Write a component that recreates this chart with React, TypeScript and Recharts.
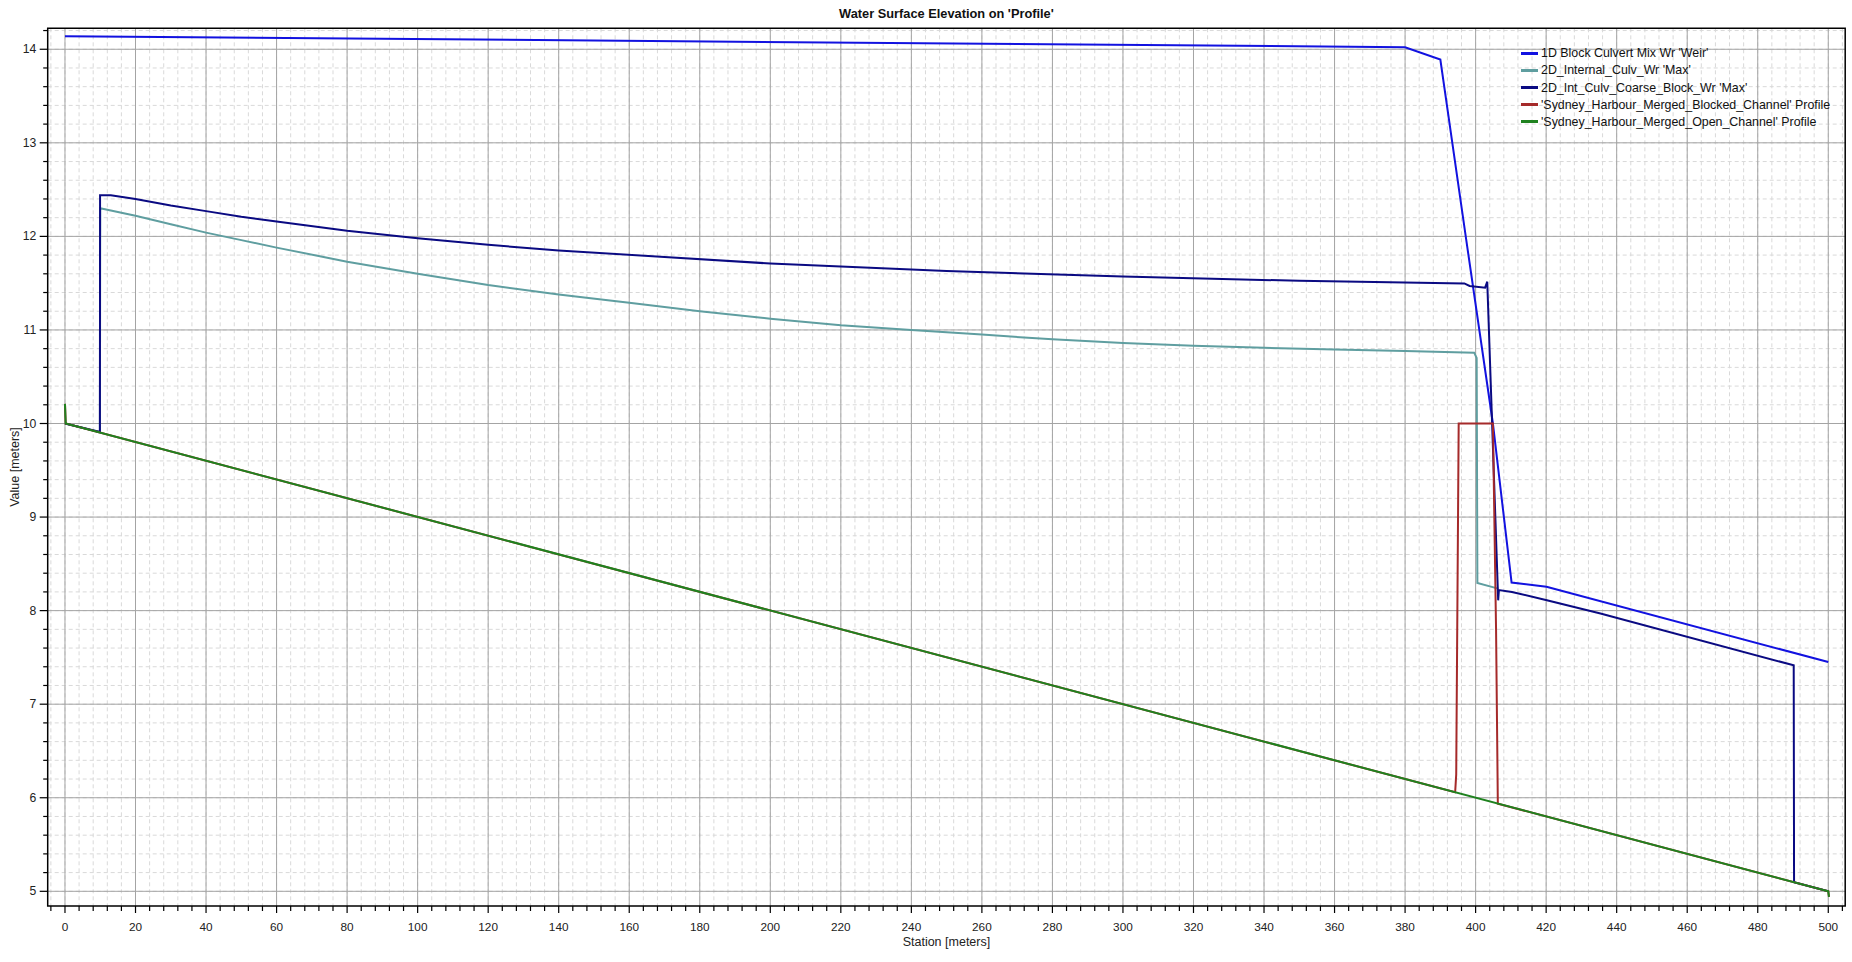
import { CartesianGrid, Line, LineChart, ReferenceArea, XAxis, YAxis } from "recharts";

// tick labels
const stationTicks = [0, 20, 40, 60, 80, 100, 120, 140, 160, 180, 200, 220, 240, 260, 280, 300, 320, 340, 360, 380, 400, 420, 440, 460, 480, 500];
const valueTicks = [5, 6, 7, 8, 9, 10, 11, 12, 13, 14];

// minor ticks (every 4 m / every 0.2 m)
const stationMinor: number[] = [];
for (let s = -4; s <= 504; s += 4) stationMinor.push(s);
const valueMinor: number[] = [];
for (let i = 25; i <= 71; i++) valueMinor.push(Math.round(i * 2) / 10);

// series, [station, value]
const culvert1D = [
  [0, 14.14], [380, 14.022], [390, 13.89], [397.2, 12.0], [404.9, 10.0],
  [410.2, 8.3], [420.1, 8.255], [500, 7.45],
];
const internalCulv = [
  [0, 10.0], [9.9, 9.91], [10, 12.3], [15, 12.26], [20, 12.22], [30, 12.13],
  [40, 12.04], [50, 11.96], [60, 11.88], [80, 11.73], [100, 11.6], [120, 11.48],
  [140, 11.38], [160, 11.29], [180, 11.2], [200, 11.12], [220, 11.05],
  [240, 11.0], [260, 10.95], [280, 10.9], [300, 10.86], [320, 10.83],
  [340, 10.81], [360, 10.79], [380, 10.775], [399.6, 10.757], [400.3, 10.7],
  [400.5, 8.295], [406.4, 8.235],
];
const coarseBlock = [
  [0, 10.0], [9.9, 9.91], [9.95, 12.44], [13, 12.44], [20, 12.4], [30, 12.33],
  [40, 12.27], [50, 12.21], [60, 12.16], [80, 12.06], [100, 11.98], [120, 11.91],
  [140, 11.85], [170, 11.78], [200, 11.71], [250, 11.63], [300, 11.57],
  [350, 11.525], [396.8, 11.497], [398.3, 11.47], [402.7, 11.452],
  [403.3, 11.516], [406.4, 8.11], [406.6, 8.22], [410.3, 8.2], [420.2, 8.11],
  [435.4, 7.97], [490.2, 7.415], [490.3, 5.096], [500, 5.0],
];
const blockedChannel = [
  [0, 10.21], [0.2, 10.0], [394.2, 6.058], [394.5, 6.25], [395.2, 10.0],
  [404.9, 10.0], [405.8, 7.79], [406.3, 5.937], [500, 5.0], [500.2, 4.94],
];
const openChannel = [
  [0, 10.21], [0.2, 10.0], [500, 5.0], [500.2, 4.94],
];

const series = [
  { name: "1D Block Culvert Mix Wr 'Weir'", color: "#1212e0", points: culvert1D },
  { name: "2D_Internal_Culv_Wr 'Max'", color: "#5f9ea0", points: internalCulv },
  { name: "2D_Int_Culv_Coarse_Block_Wr 'Max'", color: "#0a0a82", points: coarseBlock },
  { name: "'Sydney_Harbour_Merged_Blocked_Channel' Profile", color: "#a52a2a", points: blockedChannel },
  { name: "'Sydney_Harbour_Merged_Open_Channel' Profile", color: "#1f821f", points: openChannel },
];

const W = 1852;
const H = 962;
const PLOT = { left: 47.7, top: 28.3, right: 1845.2, bottom: 906 };
const X_DOMAIN: [number, number] = [-4.9, 504.8];
const Y_DOMAIN: [number, number] = [4.843, 14.224];
const FONT = "'Liberation Sans', Arial, sans-serif";

function StationTick(props: any) {
  const { x, payload } = props;
  const major = payload.value % 20 === 0;
  return (
    <g>
      <line x1={x} x2={x} y1={PLOT.bottom} y2={PLOT.bottom + (major ? 7 : 5)} stroke="#000" strokeWidth={1.2} />
      {major && (
        <text x={x} y={PLOT.bottom + 21} textAnchor="middle" dominantBaseline="central" fontSize={11.8} fontFamily={FONT} fill="#222">
          {payload.value}
        </text>
      )}
    </g>
  );
}

function ValueTick(props: any) {
  const { y, payload } = props;
  const major = Math.abs(payload.value - Math.round(payload.value)) < 1e-6;
  return (
    <g>
      <line x1={PLOT.left - (major ? 8 : 4.5)} x2={PLOT.left} y1={y} y2={y} stroke="#000" strokeWidth={1.2} />
      {major && (
        <text x={PLOT.left - 11.5} y={y} textAnchor="end" dominantBaseline="central" fontSize={12.2} fontFamily={FONT} fill="#222">
          {Math.round(payload.value)}
        </text>
      )}
    </g>
  );
}

export default function App() {
  return (
    <div style={{ position: "absolute", left: 0, top: 0, width: W, height: H, background: "#fff", fontFamily: FONT }}>
      <LineChart
        width={W}
        height={H}
        margin={{ top: PLOT.top, right: W - PLOT.right, bottom: H - PLOT.bottom - 40, left: PLOT.left - 40 }}
      >
        <CartesianGrid horizontalValues={valueMinor} verticalValues={stationMinor} stroke="#d9d9d9" strokeDasharray="4 3" />
        <CartesianGrid horizontalValues={valueTicks} verticalValues={stationTicks} stroke="#a4a4a4" />
        <XAxis
          type="number"
          dataKey="x"
          domain={X_DOMAIN}
          allowDataOverflow
          ticks={stationMinor}
          interval={0}
          tick={<StationTick />}
          tickLine={false}
          axisLine={false}
          height={40}
        />
        <YAxis
          type="number"
          dataKey="y"
          domain={Y_DOMAIN}
          allowDataOverflow
          ticks={valueMinor}
          interval={0}
          tick={<ValueTick />}
          tickLine={false}
          axisLine={false}
          width={40}
        />
        {series.map((s) => (
          <Line
            key={s.name}
            data={s.points.map(([x, y]) => ({ x, y }))}
            dataKey="y"
            name={s.name}
            type="linear"
            stroke={s.color}
            strokeWidth={2}
            dot={false}
            activeDot={false}
            isAnimationActive={false}
          />
        ))}
        <ReferenceArea x1={X_DOMAIN[0]} x2={X_DOMAIN[1]} y1={Y_DOMAIN[0]} y2={Y_DOMAIN[1]} fill="none" stroke="#000" strokeWidth={1.5} />
      </LineChart>

      <div
        style={{
          position: "absolute",
          left: PLOT.left,
          width: PLOT.right - PLOT.left,
          top: 6,
          textAlign: "center",
          fontWeight: "bold",
          fontSize: 12.8,
          lineHeight: "16px",
          color: "#111",
        }}
      >
        Water Surface Elevation on 'Profile'
      </div>
      <div
        style={{
          position: "absolute",
          left: PLOT.left,
          width: PLOT.right - PLOT.left,
          top: 934,
          textAlign: "center",
          fontSize: 12.5,
          lineHeight: "16px",
          color: "#222",
        }}
      >
        Station [meters]
      </div>
      <div
        style={{
          position: "absolute",
          left: 15 - 60,
          top: 467 - 8,
          width: 120,
          textAlign: "center",
          fontSize: 12.5,
          lineHeight: "16px",
          color: "#222",
          transform: "rotate(-90deg)",
        }}
      >
        Value [meters]
      </div>

      <div style={{ position: "absolute", left: 1521, top: 44.8, fontSize: 12.4, color: "#111" }}>
        {series.map((s) => (
          <div key={s.name} style={{ display: "flex", alignItems: "center", height: 17.1, whiteSpace: "nowrap" }}>
            <span style={{ display: "inline-block", width: 17, height: 2.5, background: s.color, marginRight: 3 }} />
            <span>{s.name}</span>
          </div>
        ))}
      </div>
    </div>
  );
}
